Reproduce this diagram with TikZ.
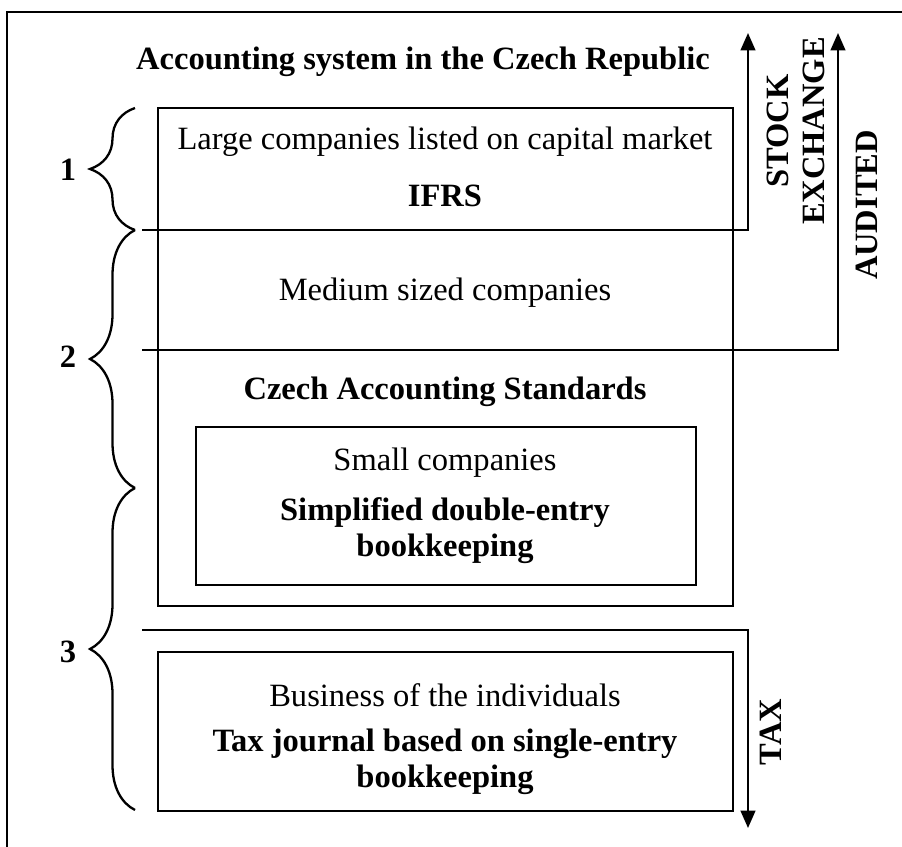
\documentclass[tikz,border=0pt]{standalone}
\usepackage{fontspec}
\setmainfont{Liberation Serif}
\usetikzlibrary{arrows.meta,decorations.pathreplacing}

\begin{document}
\begin{tikzpicture}[x=0.369pt,y=-0.369pt]%
  \tikzstyle{linen}=[line width=0.85pt]
  \tikzstyle{arrn}=[linen,-{Triangle[width=5.4pt,length=6.4pt]}]
  \tikzstyle{brcn}=[linen,decorate,decoration={brace,amplitude=16.6pt}]
  \tikzstyle{txtn}=[inner sep=0,font=\fontsize{12}{13.3}\selectfont,align=center]
  \tikzstyle{bldn}=[txtn,font=\fontsize{12}{13.3}\selectfont\bfseries]
  \tikzstyle{rotn}=[bldn,rotate=90]
  \useasboundingbox (0,0) rectangle (902,847);
  % frame
  \draw[linen] (7,847) -- (7,12) -- (902,12);
  % boxes
  \draw[linen] (158,108) rectangle (733,606);
  \draw[linen] (196,427) rectangle (696,585);
  \draw[linen] (158,652) rectangle (733,811);
  % arrows
  \coordinate (s0) at (142,230); \coordinate (s1) at (748,230); \coordinate (s2) at (748,33);
  \coordinate (a0) at (142,350); \coordinate (a1) at (838,350); \coordinate (a2) at (838,33);
  \coordinate (t0) at (142,630); \coordinate (t1) at (748,630); \coordinate (t2) at (748,828);
  \draw[arrn] (s0) -- (s1) -- (s2);
  \draw[arrn] (a0) -- (a1) -- (a2);
  \draw[arrn] (t0) -- (t1) -- (t2);
  % braces
  \draw[brcn] (135,230) -- (135,108);
  \draw[brcn] (135,488) -- (135,230);
  \draw[brcn] (135,810) -- (135,488);
  \node(n1)[bldn] at (68,170) {1};
  \node(n2)[bldn] at (68,357) {2};
  \node(n3)[bldn] at (68,652) {3};
  % texts
  \node(title)[bldn] at (423,62) {Accounting system in the Czech Republic};
  \node(large)[txtn] at (445,142) {Large companies listed on capital market};
  \node(ifrs)[bldn] at (445,196) {IFRS};
  \node(medium)[txtn] at (445,293) {Medium sized companies};
  \node(cas)[bldn] at (445,392) {Czech Accounting Standards};
  \node(small)[txtn] at (445,463) {Small companies};
  \node(simple)[bldn] at (445,531) {Simplified double-entry\\bookkeeping};
  \node(indiv)[txtn] at (445,695) {Business of the individuals};
  \node(journal)[bldn] at (445,762) {Tax journal based on single-entry\\bookkeeping};
  \node(stock)[rotn] at (796,131) {STOCK\\EXCHANGE};
  \node(audit)[rotn] at (867,205) {AUDITED};
  \node(tax)[rotn] at (771,732) {TAX};
\end{tikzpicture}
\end{document}
